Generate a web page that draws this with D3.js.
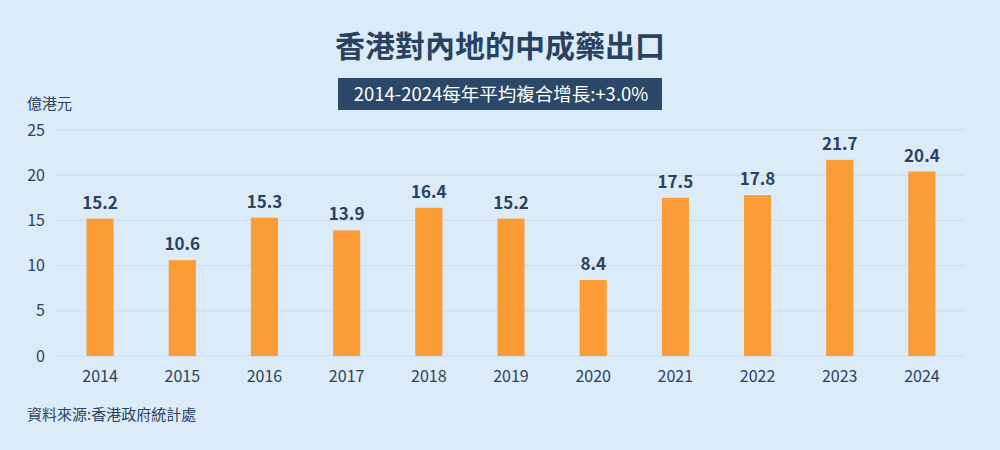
<!DOCTYPE html>
<html>
<head>
<meta charset="utf-8">
<script src="https://cdn.jsdelivr.net/npm/d3@7"></script>
<style>
  body { margin: 0; background: #dcebf8; }
  svg { display: block; font-family: "Noto Sans CJK TC", "Noto Sans", sans-serif; }
</style>
</head>
<body>
<div id="chart"></div>
<script>
// 數據
const years = ["2014", "2015", "2016", "2017", "2018", "2019", "2020", "2021", "2022", "2023", "2024"];
const values = [15.2, 10.6, 15.3, 13.9, 16.4, 15.2, 8.4, 17.5, 17.8, 21.7, 20.4];
const yTicks = [0, 5, 10, 15, 20, 25];

const W = 1000, H = 450;
const textColor = "#2a4262";

const svg = d3.select("#chart")
  .append("svg")
  .attr("width", W)
  .attr("height", H);

svg.append("rect")
  .attr("width", W)
  .attr("height", H)
  .attr("fill", "#dcebf8");

// 標題
svg.append("text")
  .attr("x", 500)
  .attr("y", 57)
  .attr("text-anchor", "middle")
  .attr("font-size", 30)
  .attr("font-weight", "bold")
  .attr("fill", textColor)
  .text("香港對內地的中成藥出口");

// 副標題
svg.append("rect")
  .attr("x", 338)
  .attr("y", 78)
  .attr("width", 324)
  .attr("height", 32)
  .attr("fill", "#2b4868");

svg.append("text")
  .attr("x", 501)
  .attr("y", 101)
  .attr("text-anchor", "middle")
  .attr("font-size", 18.5)
  .attr("fill", "#ffffff")
  .text("2014-2024每年平均複合增長:+3.0%");

// 比例尺
const x = d3.scaleBand()
  .domain(years)
  .range([59, 963])
  .paddingInner(0.67)
  .paddingOuter(0.335);

const y = d3.scaleLinear()
  .domain([0, 25])
  .range([356, 130]);

// 網格線
svg.append("g")
  .selectAll("line")
  .data(yTicks)
  .join("line")
  .attr("x1", 55)
  .attr("x2", 964)
  .attr("y1", d => y(d))
  .attr("y2", d => y(d))
  .attr("stroke", "#cadbea")
  .attr("stroke-width", 1);

// Y軸
const yAxis = svg.append("g")
  .attr("transform", "translate(45,0)")
  .call(d3.axisLeft(y).tickValues(yTicks).tickSize(0).tickPadding(0));
yAxis.select(".domain").remove();
yAxis.selectAll("text")
  .attr("font-size", 16)
  .attr("fill", textColor)
  .attr("font-family", "\"Noto Sans CJK TC\", sans-serif");

svg.append("text")
  .attr("x", 27)
  .attr("y", 109)
  .attr("font-size", 15)
  .attr("fill", textColor)
  .text("億港元");

// X軸
const xAxis = svg.append("g")
  .attr("transform", "translate(0,371)")
  .call(d3.axisBottom(x).tickSize(0).tickPadding(0));
xAxis.select(".domain").remove();
xAxis.selectAll("text")
  .attr("font-size", 16)
  .attr("fill", textColor)
  .attr("font-family", "\"Noto Sans CJK TC\", sans-serif");

// 柱
svg.append("g")
  .selectAll("rect")
  .data(values)
  .join("rect")
  .attr("x", (d, i) => x(years[i]))
  .attr("y", d => y(d))
  .attr("width", x.bandwidth())
  .attr("height", d => y(0) - y(d))
  .attr("fill", "#fb9c36");

// 數值標籤
svg.append("g")
  .selectAll("text")
  .data(values)
  .join("text")
  .attr("x", (d, i) => x(years[i]) + x.bandwidth() / 2)
  .attr("y", d => y(d) - 10)
  .attr("text-anchor", "middle")
  .attr("font-size", 17)
  .attr("font-weight", "bold")
  .attr("fill", textColor)
  .text(d => d.toFixed(1));

// 資料來源
svg.append("text")
  .attr("x", 27)
  .attr("y", 420)
  .attr("font-size", 15)
  .attr("fill", textColor)
  .text("資料來源:香港政府統計處");
</script>
</body>
</html>
